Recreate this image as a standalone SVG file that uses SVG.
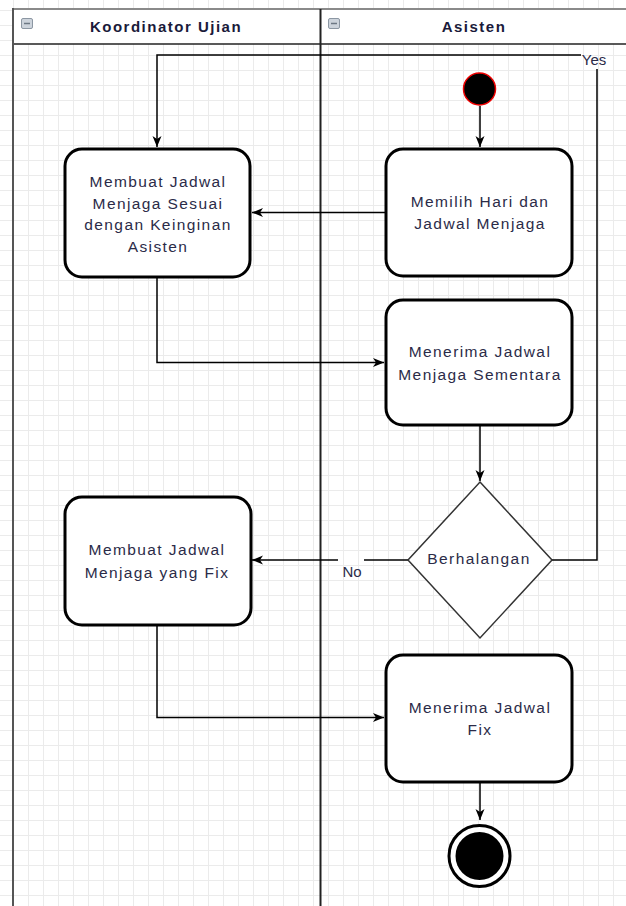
<svg xmlns="http://www.w3.org/2000/svg" width="626" height="906" viewBox="0 0 626 906">
<defs>
<pattern id="grid" width="15" height="15" patternUnits="userSpaceOnUse" x="-2" y="10">
<path d="M0 0.5 H15 M0.5 0 V15" fill="none" stroke="#ebebeb" stroke-width="1"/>
</pattern>
<marker id="arr" markerUnits="userSpaceOnUse" markerWidth="12" markerHeight="10" refX="11" refY="5" orient="auto">
<path d="M0,0.5 L11,5 L0,9.5 L3,5 z" fill="#000"/>
</marker>
<style>
.act{fill:#fff;stroke:#000;stroke-width:3}
.lbl{font-family:"Liberation Sans",Arial,sans-serif;font-size:15.5px;letter-spacing:1.4px;fill:#2b2b48;text-anchor:middle}
.edge{font-family:"Liberation Sans",Arial,sans-serif;font-size:15px;fill:#2b2b48;text-anchor:middle}
.hdr{font-family:"Liberation Sans",Arial,sans-serif;font-size:15px;font-weight:bold;letter-spacing:1.5px;fill:#1a1a3a;text-anchor:middle}
.con{fill:none;stroke:#000;stroke-width:1.5}
.ico{fill:#cdd4dc;stroke:#8c97a3;stroke-width:1}
</style>
</defs>
<rect width="626" height="906" fill="#fff"/>
<rect width="626" height="906" fill="url(#grid)"/>

<g id="pool">
<rect x="13" y="9" width="613" height="35" fill="#fff"/>
<line x1="12" y1="9" x2="626" y2="9" stroke="#8a8a8a" stroke-width="2"/>
<line x1="13" y1="44" x2="626" y2="44" stroke="#222" stroke-width="1.5"/>
<line x1="13" y1="8" x2="13" y2="906" stroke="#555" stroke-width="2"/>
<line x1="320.5" y1="9" x2="320.5" y2="906" stroke="#222" stroke-width="2"/>
<g id="lane-koordinator">
<rect class="ico" x="21.5" y="18.5" width="11" height="10" rx="1.5"/>
<line x1="24" y1="23.5" x2="30" y2="23.5" stroke="#6d7884" stroke-width="1.5"/>
<text class="hdr" x="166" y="32">Koordinator Ujian</text>
</g>
<g id="lane-asisten">
<rect class="ico" x="328.5" y="18.5" width="11" height="10" rx="1.5"/>
<line x1="331" y1="23.5" x2="337" y2="23.5" stroke="#6d7884" stroke-width="1.5"/>
<text class="hdr" x="474" y="32">Asisten</text>
</g>
</g>

<g id="connectors">
<path class="con" d="M480 106 V147" marker-end="url(#arr)"/>
<path class="con" d="M386 212.5 H252" marker-end="url(#arr)"/>
<path class="con" d="M157 277 V362.5 H384" marker-end="url(#arr)"/>
<path class="con" d="M480 425 V481" marker-end="url(#arr)"/>
<path class="con" d="M408 560 H364"/>
<path class="con" d="M338 560 H252" marker-end="url(#arr)"/>
<path class="con" d="M552 560 H597 V69"/>
<path class="con" d="M581 55 H157 V147" marker-end="url(#arr)"/>
<path class="con" d="M157 625 V717.5 H384" marker-end="url(#arr)"/>
<path class="con" d="M480 782 V820" marker-end="url(#arr)"/>
<text class="edge" x="352" y="577">No</text>
<text class="edge" x="594" y="65">Yes</text>
</g>

<g id="start">
<circle cx="479.5" cy="89" r="16" fill="#000" stroke="#e00" stroke-width="1.5"/>
</g>

<g id="memilih">
<rect class="act" x="386" y="149" width="186" height="127" rx="17"/>
<text class="lbl" x="480" y="206.5">Memilih Hari dan</text>
<text class="lbl" x="480" y="229">Jadwal Menjaga</text>
</g>

<g id="membuat-sesuai">
<rect class="act" x="65" y="149" width="185" height="128" rx="17"/>
<text class="lbl" x="158" y="187">Membuat Jadwal</text>
<text class="lbl" x="158" y="208.5">Menjaga Sesuai</text>
<text class="lbl" x="158" y="230">dengan Keinginan</text>
<text class="lbl" x="158" y="251.5">Asisten</text>
</g>

<g id="menerima-sementara">
<rect class="act" x="386" y="300" width="186" height="125" rx="17"/>
<text class="lbl" x="480" y="357">Menerima Jadwal</text>
<text class="lbl" x="480" y="380">Menjaga Sementara</text>
</g>

<g id="berhalangan">
<path d="M480 482 L552 560 L480 638 L408 560 Z" fill="#fff" stroke="#333" stroke-width="1.5"/>
<text class="lbl" x="479" y="564">Berhalangan</text>
</g>

<g id="membuat-fix">
<rect class="act" x="65" y="497" width="186" height="128" rx="17"/>
<text class="lbl" x="157" y="555">Membuat Jadwal</text>
<text class="lbl" x="157" y="578">Menjaga yang Fix</text>
</g>

<g id="menerima-fix">
<rect class="act" x="386" y="655" width="186" height="127" rx="17"/>
<text class="lbl" x="480" y="713">Menerima Jadwal</text>
<text class="lbl" x="480" y="735">Fix</text>
</g>

<g id="end">
<circle cx="479.5" cy="856" r="30.5" fill="#fff" stroke="#000" stroke-width="3"/>
<circle cx="479.5" cy="856" r="24" fill="#000"/>
</g>
</svg>
